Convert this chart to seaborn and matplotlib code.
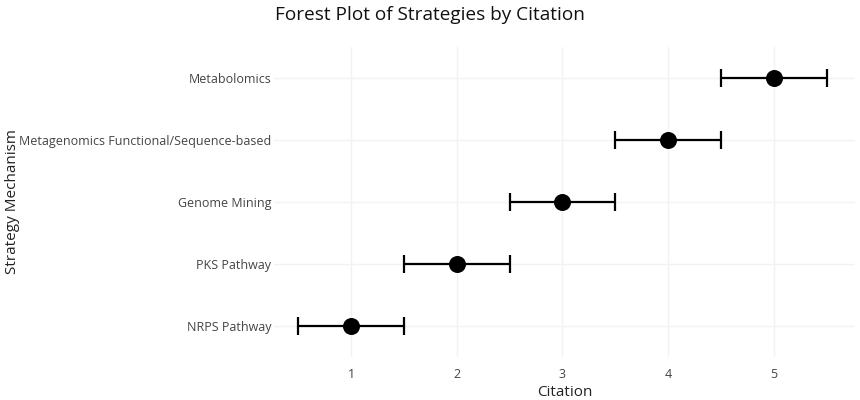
import matplotlib
matplotlib.use("Agg")
import matplotlib.pyplot as plt
import seaborn as sns
import pandas as pd

strategies = ["NRPS Pathway", "PKS Pathway", "Genome Mining",
              "Metagenomics Functional/Sequence-based", "Metabolomics"]
citations = [1, 2, 3, 4, 5]
err_low = [0.5, 0.5, 0.5, 0.5, 0.5]
err_high = [0.5, 0.5, 0.5, 0.5, 0.5]

df = pd.DataFrame({"Strategy": strategies, "Citation": citations})

sns.set_theme(style="white")
plt.rcParams["font.family"] = ["Open Sans", "DejaVu Sans"]

fig = plt.figure(figsize=(8.6, 4.0), dpi=100)
ax = fig.add_axes([0.3185, 0.1075, 0.676, 0.775])

ax.errorbar(df["Citation"], df["Strategy"], xerr=[err_low, err_high],
            fmt="none", ecolor="black", elinewidth=1.6, capsize=6.5,
            capthick=1.6, zorder=3)
sns.scatterplot(data=df, x="Citation", y="Strategy", ax=ax, color="black",
                s=150, edgecolor="black", linewidth=0, zorder=4)

ax.set_xlim(0.27, 5.77)
ax.set_ylim(-0.5, 4.5)
ax.set_xticks([1, 2, 3, 4, 5])
ax.grid(True, color="#f2f2f2", linewidth=1)
ax.set_axisbelow(True)
for s in ax.spines.values():
    s.set_visible(False)
ax.tick_params(axis="both", length=0, labelsize=9, colors="#444444")
ax.tick_params(axis="y", pad=2)
ax.tick_params(axis="x", pad=8)
ax.set_xlabel("Citation", fontsize=11, color="#222222", labelpad=3)
ax.set_ylabel("Strategy Mechanism", fontsize=11, color="#222222", labelpad=2)
ax.yaxis.set_label_coords(-0.437, 0.5)

fig.text(0.5, 0.962, "Forest Plot of Strategies by Citation", ha="center",
         va="center", fontsize=13.7, color="#111111")

fig.savefig("out.png", dpi=100)
